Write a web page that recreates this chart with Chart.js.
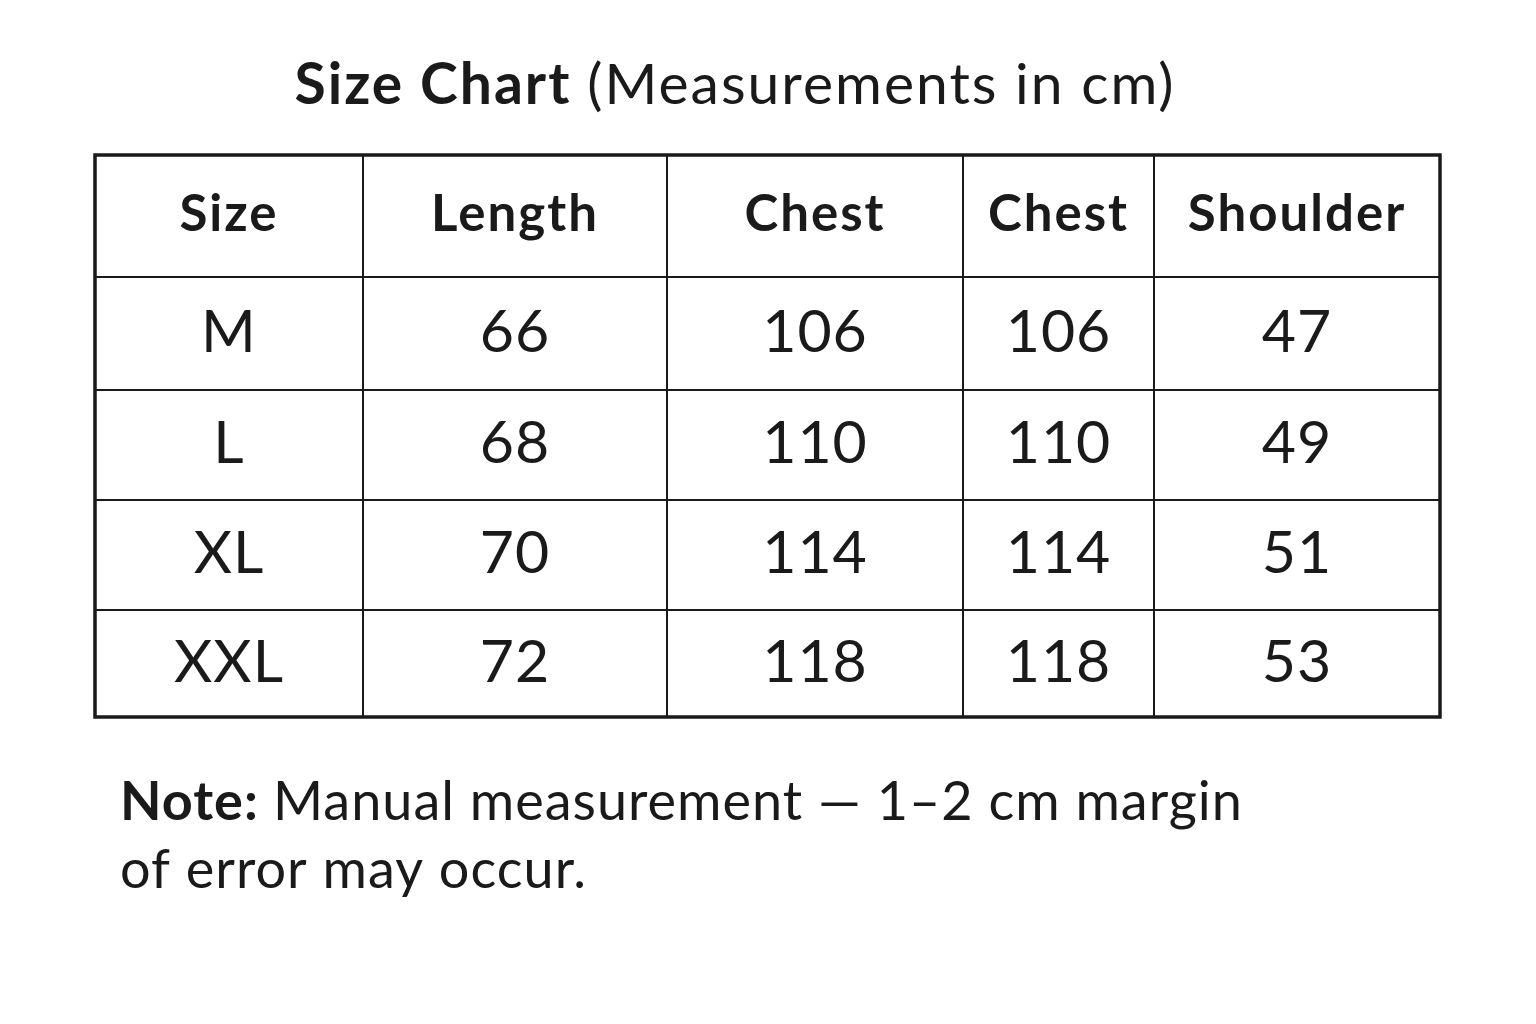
<!DOCTYPE html>
<html><head><meta charset="utf-8">
<script src="https://cdn.jsdelivr.net/npm/chart.js@4"></script>
<style>html,body{margin:0;padding:0;background:#fff}#w{width:1536px;height:1024px}</style>
</head><body><div id="w"><canvas id="c"></canvas></div>
<script>
const headers = ["Size","Length","Chest","Chest","Shoulder"];
const sizes = ["M","L","XL","XXL"];
const lengths = [66,68,70,72];
const chestA = [106,110,114,118];
const chestB = [106,110,114,118];
const shoulders = [47,49,51,53];
const colEdges = [0,268,572,868,1059,1345];
const rowEdges = [0,122,235,345,455,562];
const FONT = "Lato, 'Noto Sans', sans-serif";

const columns = [sizes, lengths, chestA, chestB, shoulders];

const tablePlugin = {
  id: 'table',
  afterDraw(chart) {
    const ctx = chart.ctx, x = chart.scales.x, y = chart.scales.y;
    ctx.save();
    ctx.strokeStyle = '#1a1a1a';
    ctx.lineWidth = 2;
    colEdges.slice(1,-1).forEach(v => { const px = x.getPixelForValue(v); ctx.beginPath(); ctx.moveTo(px, y.getPixelForValue(0)); ctx.lineTo(px, y.getPixelForValue(562)); ctx.stroke(); });
    rowEdges.slice(1,-1).forEach(v => { const py = y.getPixelForValue(v); ctx.beginPath(); ctx.moveTo(x.getPixelForValue(0), py); ctx.lineTo(x.getPixelForValue(1345), py); ctx.stroke(); });
    ctx.lineWidth = 3.5;
    ctx.strokeRect(x.getPixelForValue(0), y.getPixelForValue(0), x.getPixelForValue(1345)-x.getPixelForValue(0), y.getPixelForValue(562)-y.getPixelForValue(0));
    ctx.fillStyle = '#1a1a1a';
    ctx.textAlign = 'center'; ctx.textBaseline = 'middle';
    for (let c = 0; c < 5; c++) {
      const cx = x.getPixelForValue((colEdges[c]+colEdges[c+1])/2);
      ctx.letterSpacing = '2px';
      ctx.font = `bold 51px ${FONT}`;
      ctx.fillText(headers[c], cx, y.getPixelForValue((rowEdges[0]+rowEdges[1])/2) - 1);
      ctx.letterSpacing = '1px';
      ctx.font = `59px ${FONT}`;
      columns[c].forEach((v, r) => ctx.fillText(String(v), cx, y.getPixelForValue((rowEdges[r+1]+rowEdges[r+2])/2) - 1));
    }
    ctx.textAlign = 'left'; ctx.textBaseline = 'alphabetic';
    ctx.letterSpacing = '2px';
    ctx.font = `bold 57px ${FONT}`;
    const t1 = 'Size Chart ';
    const w1 = ctx.measureText(t1).width;
    ctx.font = `57px ${FONT}`;
    const t2 = '(Measurements in cm)';
    const w2 = ctx.measureText(t2).width;
    const sx = 735 - (w1+w2)/2;
    ctx.font = `bold 57px ${FONT}`; ctx.fillText(t1, sx, 104);
    ctx.font = `57px ${FONT}`; ctx.fillText(t2, sx+w1, 104);
    ctx.letterSpacing = '1px';
    ctx.font = `bold 54px ${FONT}`;
    ctx.fillText('Note:', 120, 820);
    const wn = ctx.measureText('Note: ').width;
    ctx.font = `54px ${FONT}`;
    ctx.fillText('Manual measurement \u2014 1\u20132 cm margin', 120+wn, 820);
    ctx.fillText('of error may occur.', 120, 888);
    ctx.restore();
  }
};

new Chart(document.getElementById('c'), {
  type: 'scatter',
  data: { datasets: [{ data: [], pointRadius: 0 }] },
  options: {
    responsive: true, maintainAspectRatio: false, animation: false,
    layout: { padding: { left: 95, right: 96, top: 155, bottom: 307 } },
    plugins: { legend: { display: false }, tooltip: { enabled: false } },
    scales: {
      x: { type: 'linear', min: 0, max: 1345, display: false },
      y: { type: 'linear', min: 0, max: 562, reverse: true, display: false }
    }
  },
  plugins: [tablePlugin]
});
</script></body></html>
